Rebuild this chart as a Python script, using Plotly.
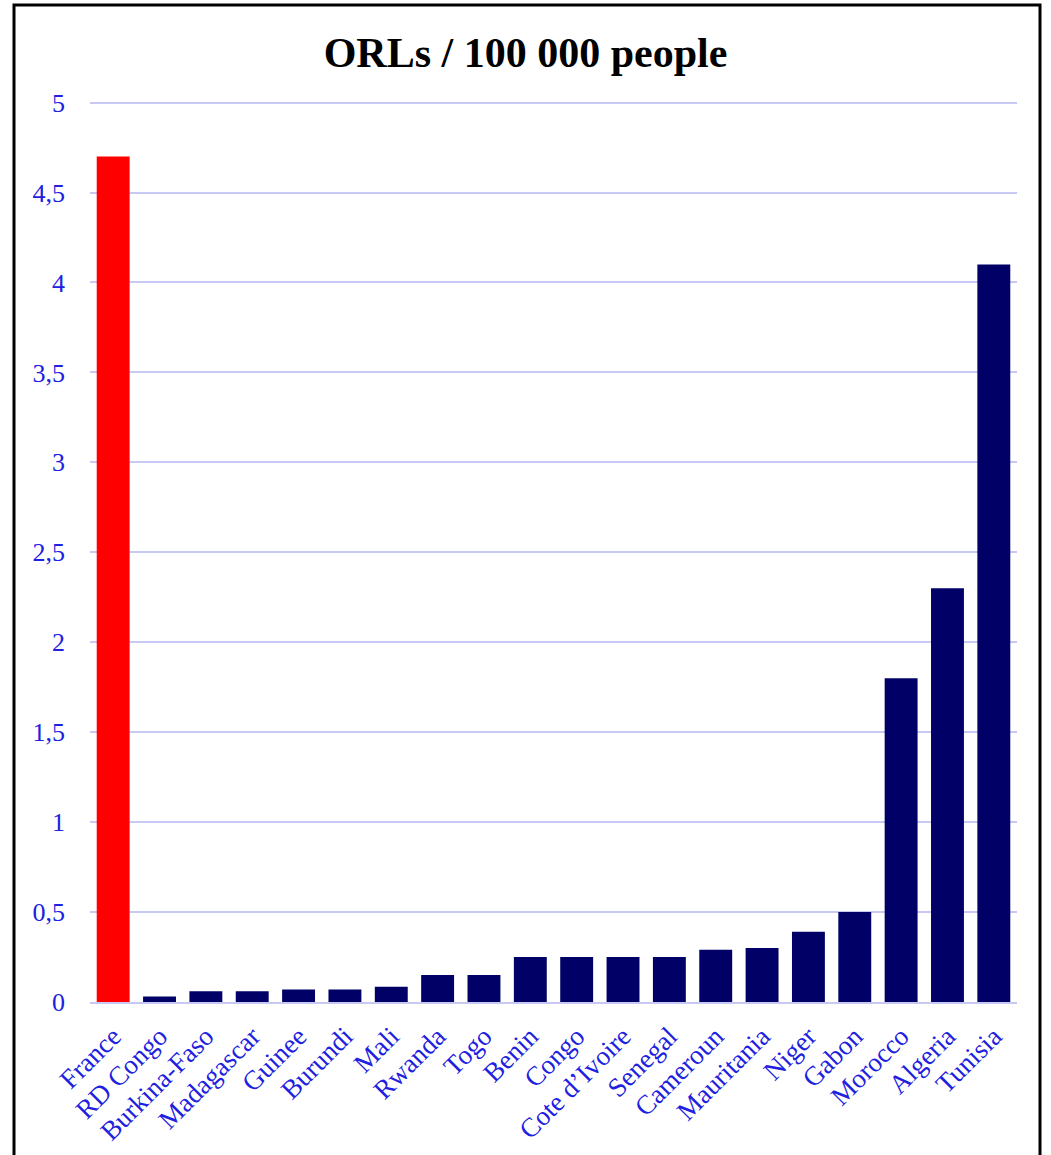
import plotly.graph_objects as go

# Otolaryngologists (ORLs) per 100 000 inhabitants, by country
countries = ["France", "RD Congo", "Burkina-Faso", "Madagascar", "Guinee", "Burundi",
             "Mali", "Rwanda", "Togo", "Benin", "Congo", "Cote d\u2019Ivoire", "Senegal",
             "Cameroun", "Mauritania", "Niger", "Gabon", "Morocco", "Algeria", "Tunisia"]
orl_per_100k = [4.7, 0.03, 0.06, 0.06, 0.07, 0.07, 0.085, 0.15, 0.15, 0.25, 0.25, 0.25,
                0.25, 0.29, 0.30, 0.39, 0.50, 1.80, 2.30, 4.10]
y_ticks = [0, 0.5, 1, 1.5, 2, 2.5, 3, 3.5, 4, 4.5, 5]

bar_colors = ["#ff0000" if c == "France" else "#000066" for c in countries]
label_blue = "#2020e0"
grid_col = "#c8c8f4"

fig = go.Figure(go.Bar(
    x=countries, y=orl_per_100k,
    marker=dict(color=bar_colors, line=dict(width=0)),
    width=0.71,
))

W, H = 1051, 1155
ml, mr, mt, mb = 90, 34, 99, 153
pw, ph = W - ml - mr, H - mt - mb

def px_x(p):
    return (p - ml) / pw

def px_y(p):
    return (H - mb - p) / ph

fig.update_layout(
    width=W, height=H,
    margin=dict(l=ml, r=mr, t=mt, b=mb, autoexpand=False),
    paper_bgcolor="white", plot_bgcolor="white",
    separators=", ",
    showlegend=False,
    title=dict(text="<b>ORLs / 100 000 people</b>", x=0.5, xanchor="center",
               y=1 - 52 / H, yanchor="middle",
               font=dict(family="Liberation Serif", size=42, color="black")),
    xaxis=dict(
        tickangle=-45, tickfont=dict(family="Liberation Serif", size=27, color=label_blue),
        showgrid=False, showline=True, linecolor=grid_col, linewidth=1.5,
        ticks="", range=[-0.5, 19.5], ticklabelstandoff=6, automargin=False,
    ),
    yaxis=dict(
        range=[0, 5.02], tickvals=y_ticks,
        tickfont=dict(family="Liberation Serif", size=26, color=label_blue),
        showgrid=True, gridcolor=grid_col, gridwidth=1.5,
        zeroline=False, showline=False, ticks="", ticklabelstandoff=24,
        automargin=False,
    ),
    shapes=[dict(type="rect", xref="paper", yref="paper",
                 x0=px_x(14), x1=px_x(1040), y0=px_y(1200), y1=px_y(5),
                 line=dict(color="black", width=3), fillcolor="rgba(0,0,0,0)",
                 layer="above")],
)

fig.write_html("out.html")
